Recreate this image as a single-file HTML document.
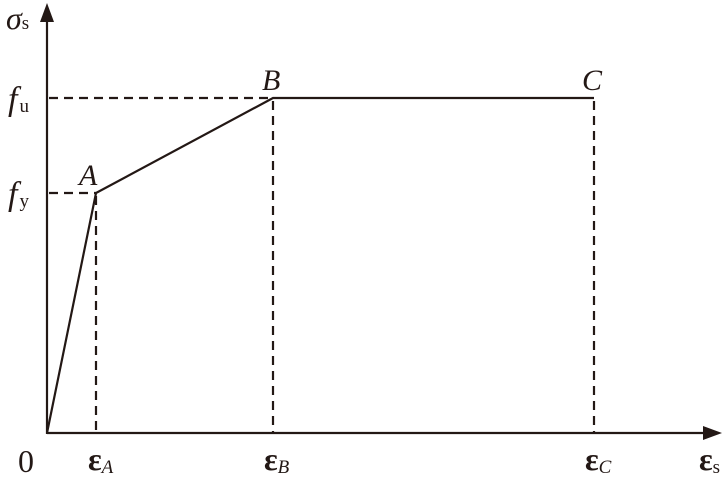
<!DOCTYPE html>
<html><head><style>body{margin:0;background:#fff}</style></head><body>
<svg width="725" height="475" xmlns="http://www.w3.org/2000/svg" font-family="Liberation Serif, serif" fill="#231815">
<g stroke="#231815" stroke-width="2.2" fill="none">
<line x1="47" y1="434" x2="47" y2="18"/>
<line x1="47" y1="433" x2="708" y2="433"/>
<polyline points="47,433 96,193 273,98 594,98"/>
<g stroke-dasharray="9,6">
<line x1="49" y1="193" x2="96" y2="193"/>
<line x1="49" y1="98" x2="273" y2="98"/>
<line x1="96" y1="196" x2="96" y2="433"/>
<line x1="273" y1="101" x2="273" y2="433"/>
<line x1="594" y1="101" x2="594" y2="433"/>
</g>
</g>
<polygon points="47,3 40,22 54,22"/>
<polygon points="722,433 703,426 703,440"/>
<text x="6" y="29" font-size="32" font-style="italic">σ<tspan font-size="19" font-style="normal" dy="0">s</tspan></text>
<text x="8" y="110" font-size="34" font-style="italic">f<tspan font-size="19" font-style="normal" dx="2" dy="2">u</tspan></text>
<text x="8" y="205" font-size="34" font-style="italic">f<tspan font-size="19" font-style="normal" dx="2" dy="2">y</tspan></text>
<text x="79" y="185" font-size="30" font-style="italic">A</text>
<text x="262" y="90" font-size="30" font-style="italic">B</text>
<text x="582" y="90" font-size="30" font-style="italic">C</text>
<text x="18" y="472" font-size="32">0</text>
<text x="88" y="470" font-size="32" font-weight="bold">ε<tspan font-size="19" font-weight="normal" font-style="italic" dy="3">A</tspan></text>
<text x="264" y="470" font-size="32" font-weight="bold">ε<tspan font-size="19" font-weight="normal" font-style="italic" dy="3">B</tspan></text>
<text x="585" y="470" font-size="32" font-weight="bold">ε<tspan font-size="19" font-weight="normal" font-style="italic" dy="3">C</tspan></text>
<text x="699" y="470" font-size="32" font-weight="bold">ε<tspan font-size="19" font-weight="normal" dy="3">s</tspan></text>
</svg>
</body></html>
